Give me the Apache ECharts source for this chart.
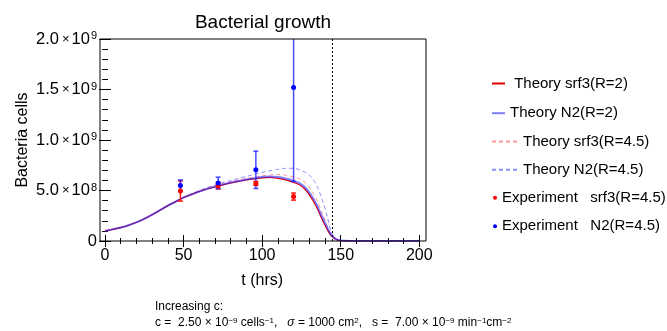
<!DOCTYPE html>
<html>
<head>
<meta charset="utf-8">
<script src="https://cdn.jsdelivr.net/npm/echarts@6/dist/echarts.min.js"></script>
<style>
html, body { margin: 0; padding: 0; background: #fff; }
#chart { width: 667px; height: 331px; }
</style>
</head>
<body>
<div id="chart"></div>
<script>
const FONT = '"Liberation Sans", Arial, sans-serif';

// model time grid (hrs)
const tGrid = [0, 5, 10, 15, 20, 25, 30, 35, 40, 45, 50, 55, 60, 65, 70, 75, 80, 85, 90, 95,
  100, 105, 110, 115, 120, 124, 128, 132, 135, 138, 141, 144, 147, 150, 155, 160, 170, 180, 190, 200];

// theory curves (bacteria cells)
const srf3R2 = [1.00e8, 1.15e8, 1.33e8, 1.56e8, 1.85e8, 2.20e8, 2.60e8, 3.05e8, 3.50e8, 3.90e8,
  4.30e8, 4.60e8, 4.90e8, 5.15e8, 5.35e8, 5.55e8, 5.75e8, 5.90e8, 6.05e8, 6.15e8,
  6.25e8, 6.30e8, 6.20e8, 6.05e8, 5.80e8, 5.55e8, 5.00e8, 4.10e8, 3.25e8, 2.20e8, 1.25e8, 5.0e7, 1.5e7, 4e6, 1e6, 0, 0, 0, 0, 0];
const n2R2 = [1.00e8, 1.15e8, 1.33e8, 1.56e8, 1.85e8, 2.20e8, 2.60e8, 3.05e8, 3.50e8, 3.90e8,
  4.30e8, 4.60e8, 4.90e8, 5.17e8, 5.40e8, 5.60e8, 5.80e8, 5.95e8, 6.10e8, 6.22e8,
  6.33e8, 6.38e8, 6.33e8, 6.18e8, 5.95e8, 5.70e8, 5.20e8, 4.35e8, 3.50e8, 2.45e8, 1.45e8, 6.0e7, 1.8e7, 5e6, 1e6, 0, 0, 0, 0, 0];
const srf3R45 = [1.00e8, 1.15e8, 1.33e8, 1.56e8, 1.85e8, 2.20e8, 2.60e8, 3.05e8, 3.50e8, 3.92e8,
  4.32e8, 4.65e8, 4.97e8, 5.25e8, 5.50e8, 5.70e8, 5.90e8, 6.05e8, 6.20e8, 6.33e8,
  6.45e8, 6.55e8, 6.58e8, 6.50e8, 6.35e8, 6.15e8, 5.70e8, 4.85e8, 4.00e8, 2.85e8, 1.65e8, 6.5e7, 2.0e7, 5e6, 1e6, 0, 0, 0, 0, 0];
const n2R45 = [1.00e8, 1.15e8, 1.33e8, 1.56e8, 1.85e8, 2.20e8, 2.60e8, 3.05e8, 3.50e8, 3.92e8,
  4.33e8, 4.68e8, 5.00e8, 5.30e8, 5.55e8, 5.80e8, 6.00e8, 6.20e8, 6.40e8, 6.60e8,
  6.80e8, 6.95e8, 7.10e8, 7.20e8, 7.20e8, 7.05e8, 6.75e8, 6.20e8, 5.40e8, 4.20e8, 2.70e8, 9.0e7, 2.0e7, 5e6, 1e6, 0, 0, 0, 0, 0];

// experiment (mean and error)
const expT = [48, 72, 96, 120];
const srf3Mean = [4.95e8, 5.45e8, 5.70e8, 4.40e8];
const srf3Err = [1.0e8, 3.0e7, 2.0e7, 3.5e7];
const n2Mean = [5.50e8, 5.75e8, 7.05e8, 1.52e9];
const n2Err = [5.5e7, 5.7e7, 1.85e8, 9.3e8];

const cutoffT = 144.6;

const names = {
  srf3R2: ' Theory srf3(R=2)',
  n2R2: 'Theory N2(R=2)',
  srf3R45: 'Theory srf3(R=4.5)',
  n2R45: 'Theory N2(R=4.5)',
  srf3Exp: 'Experiment   srf3(R=4.5)',
  n2Exp: 'Experiment   N2(R=4.5)'
};

const styles = {
  srf3R2: { color: '#e00000', width: 1.2, type: 'solid' },
  n2R2: { color: 'rgba(40,40,255,0.6)', width: 2, type: 'solid' },
  srf3R45: { color: '#ff9a9a', width: 1, type: [4, 3] },
  n2R45: { color: '#8f8fff', width: 1, type: [4, 3] }
};

const pairs = arr => tGrid.map((t, i) => [t, arr[i]]);

function lineSeries(key, arr, z) {
  const s = styles[key];
  return {
    type: 'line', name: names[key], data: pairs(arr), showSymbol: false, symbol: 'none',
    smooth: 0.25, z, silent: true,
    lineStyle: { color: s.color, width: s.width, type: s.type }, itemStyle: { color: s.color }
  };
}

function errorBars(color, means, errs, width) {
  return {
    type: 'custom', silent: true, z: 5,
    data: expT.map((t, i) => [t, means[i] - errs[i], means[i] + errs[i]]),
    encode: { x: 0, y: [1, 2] },
    renderItem(params, api) {
      const x = api.value(0);
      const lo = api.coord([x, api.value(1)]);
      const hi = api.coord([x, api.value(2)]);
      const cs = params.coordSys;
      const top = Math.max(hi[1], cs.y);
      const bot = Math.min(lo[1], cs.y + cs.height);
      const style = { stroke: color, lineWidth: width };
      const kids = [{ type: 'line', shape: { x1: lo[0], y1: top, x2: lo[0], y2: bot }, style }];
      if (hi[1] >= cs.y) kids.push({ type: 'line', shape: { x1: hi[0] - 2.5, y1: hi[1], x2: hi[0] + 2.5, y2: hi[1] }, style });
      if (lo[1] <= cs.y + cs.height) kids.push({ type: 'line', shape: { x1: lo[0] - 2.5, y1: lo[1], x2: lo[0] + 2.5, y2: lo[1] }, style });
      return { type: 'group', children: kids };
    }
  };
}

function yLabel(v) {
  if (v === 0) return '{n|0}';
  const e = Math.floor(Math.log10(v) + 1e-9);
  const m = (v / Math.pow(10, e)).toFixed(1);
  return '{n|' + m + '}{x|×}{n|10}{s|' + e + '}';
}

const tickStyle = { show: true, inside: true, length: 6, lineStyle: { color: '#000', width: 1 } };
const minorStyle = { show: true, splitNumber: 5, length: 3, lineStyle: { color: '#000', width: 1 } };

function legendItem(key, left, cy, w) {
  const item = {
    data: [names[key]], left, top: cy - 7, padding: 0, itemWidth: w, itemHeight: 14,
    selectedMode: false, textStyle: { fontFamily: FONT, fontSize: 15, color: '#000' }
  };
  if (styles[key]) item.itemStyle = { opacity: 0, borderWidth: 0 };
  return item;
}

const chart = echarts.init(document.getElementById('chart'), null, { renderer: 'canvas' });
chart.setOption({
  animation: false,
  backgroundColor: '#fff',
  textStyle: { fontFamily: FONT },
  grid: { left: 105, right: 247.7, top: 39, bottom: 90 },
  xAxis: [
    {
      type: 'value', position: 'bottom', min: 0, max: 200, interval: 50,
      axisLine: { show: false }, axisTick: tickStyle, minorTick: minorStyle,
      splitLine: { show: false },
      axisLabel: { fontSize: 16, color: '#000', margin: 7, fontFamily: FONT },
      name: 't (hrs)', nameLocation: 'middle', nameGap: 32,
      nameTextStyle: { fontSize: 16, color: '#000', fontFamily: FONT }
    },
    {
      type: 'value', position: 'top', min: 0, max: 200, interval: 50,
      axisLine: { show: false }, axisTick: tickStyle, minorTick: minorStyle,
      splitLine: { show: false }, axisLabel: { show: false }
    }
  ],
  yAxis: [
    {
      type: 'value', position: 'left', offset: 5, min: 0, max: 2e9, interval: 5e8,
      axisLine: { show: false }, axisTick: tickStyle, minorTick: minorStyle,
      splitLine: { show: false },
      axisLabel: {
        margin: 3, formatter: yLabel, color: '#000',
        rich: {
          n: { fontSize: 16.5, fontFamily: FONT, color: '#000' },
          x: { fontSize: 13, fontFamily: FONT, color: '#000', padding: [0, 2, 0, 3] },
          s: { fontSize: 11, fontFamily: FONT, color: '#000', verticalAlign: 'top', padding: [0, 0, 6, 1] }
        }
      },
      name: 'Bacteria cells', nameLocation: 'middle', nameGap: 69,
      nameTextStyle: { fontSize: 16, color: '#000', fontFamily: FONT }
    },
    {
      type: 'value', position: 'right', offset: 6.7, min: 0, max: 2e9, interval: 5e8,
      axisLine: { show: false }, axisTick: tickStyle, minorTick: minorStyle,
      splitLine: { show: false }, axisLabel: { show: false }
    }
  ],
  legend: [
    legendItem('srf3R2', 491, 83, 13),
    legendItem('n2R2', 491, 112.7, 13),
    legendItem('srf3R45', 491, 141, 26),
    legendItem('n2R45', 491, 169.3, 26),
    legendItem('srf3Exp', 493, 197.3, 4),
    legendItem('n2Exp', 493, 225.7, 4)
  ],
  graphic: [
    {
      type: 'rect', z: 100, silent: true,
      shape: { x: 100, y: 39, width: 326, height: 202 },
      style: { fill: 'none', stroke: '#000', lineWidth: 1 }
    },
    {
      type: 'text', x: 263, y: 23, silent: true,
      style: { text: 'Bacterial growth', font: '19px ' + FONT, fill: '#000',
        textAlign: 'center', textVerticalAlign: 'middle', align: 'center', verticalAlign: 'middle' }
    },
    {
      type: 'text', x: 155, y: 307, silent: true,
      style: { text: 'Increasing c:', font: '12px ' + FONT, fill: '#000',
        textVerticalAlign: 'middle', verticalAlign: 'middle' }
    },
    {
      type: 'text', x: 155, y: 323, silent: true,
      style: {
        text: '{n|c =  2.50 × 10}{s|−9}{n| cells}{s|−1}{n|,   }{i|σ}{n| = 1000 cm}{s|2}{n|,   s =  7.00 × 10}{s|−9}{n| min}{s|−1}{n|cm}{s|−2}',
        textVerticalAlign: 'middle', verticalAlign: 'middle',
        rich: {
          n: { fontSize: 12, fontFamily: FONT, color: '#000', fill: '#000' },
          i: { fontSize: 12, fontFamily: FONT, fontStyle: 'italic', color: '#000', fill: '#000' },
          s: { fontSize: 8, fontFamily: FONT, color: '#000', fill: '#000', verticalAlign: 'top' }
        }
      }
    }
  ],
  series: [
    lineSeries('n2R45', n2R45, 2),
    lineSeries('srf3R45', srf3R45, 2),
    Object.assign(lineSeries('srf3R2', srf3R2, 3), {
      markLine: {
        silent: true, symbol: 'none', label: { show: false },
        lineStyle: { color: '#000', type: [2, 2], width: 1 },
        data: [{ xAxis: cutoffT }]
      }
    }),
    lineSeries('n2R2', n2R2, 4),
    errorBars('#ff1a1a', srf3Mean, srf3Err, 1.5),
    errorBars('rgba(30,30,255,0.8)', n2Mean, n2Err, 1.5),
    {
      type: 'scatter', name: names.srf3Exp, symbolSize: 5, z: 6, silent: true,
      data: expT.map((t, i) => [t, srf3Mean[i]]), itemStyle: { color: '#ff0000', opacity: 1 }
    },
    {
      type: 'scatter', name: names.n2Exp, symbolSize: 5, z: 6, silent: true,
      data: expT.map((t, i) => [t, n2Mean[i]]), itemStyle: { color: '#0000ff', opacity: 1 }
    }
  ]
});
</script>
</body>
</html>
